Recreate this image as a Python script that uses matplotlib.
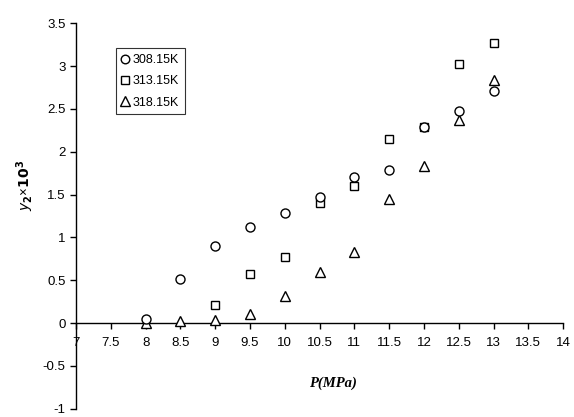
import matplotlib.pyplot as plt

# Datos
presion = [8, 8.5, 9, 9.5, 10, 10.5, 11, 11.5, 12, 12.5, 13]
y_308 = [0.05, 0.52, 0.90, 1.12, 1.29, 1.47, 1.71, 1.79, 2.29, 2.48, 2.71]
presion_313 = [9, 9.5, 10, 10.5, 11, 11.5, 12, 12.5, 13]
y_313 = [0.21, 0.57, 0.77, 1.40, 1.60, 2.15, 2.29, 3.02, 3.27]
y_318 = [0.0, 0.02, 0.04, 0.11, 0.31, 0.60, 0.83, 1.45, 1.83, 2.37, 2.84]
etiquetas = ['308.15K', '313.15K', '318.15K']

plt.rcParams['font.family'] = ['Liberation Sans', 'DejaVu Sans']

fig = plt.figure(figsize=(5.74, 4.17), dpi=100)
ax = fig.add_axes([0.1324, 0.02, 0.8486, 0.924])

estilo = dict(linestyle='none', markerfacecolor='white', markeredgecolor='black',
              markeredgewidth=1.0, clip_on=False)
ax.plot(presion_313, y_313, marker='s', markersize=6.3, label=etiquetas[1], zorder=3, **estilo)
ax.plot(presion, y_318, marker='^', markersize=7.3, label=etiquetas[2], zorder=3, **estilo)
ax.plot(presion, y_308, marker='o', markersize=6.5, label=etiquetas[0], zorder=4, **estilo)

ax.set_xlim(7, 14)
ax.set_ylim(-1, 3.5)
ax.set_xticks([7 + 0.5 * i for i in range(15)])
ax.set_xticklabels(['%g' % (7 + 0.5 * i) for i in range(15)])
ax.set_yticks([-1 + 0.5 * i for i in range(10)])
ax.set_yticklabels(['%g' % (-1 + 0.5 * i) for i in range(10)])

ax.spines['top'].set_visible(False)
ax.spines['right'].set_visible(False)
ax.spines['bottom'].set_position(('data', 0))
ax.spines['left'].set_linewidth(1.0)
ax.spines['bottom'].set_linewidth(1.0)
ax.tick_params(axis='both', direction='out', length=4, width=1.0, labelsize=9.5)
ax.tick_params(axis='x', pad=6)

ax.text(-0.105, 0.58, r'$\mathbf{\mathit{y}_2}$' + '\u00d7' + r'$\mathbf{10^3}$',
        transform=ax.transAxes, rotation=90, ha='center', va='center',
        fontsize=10, fontweight='bold', family='Liberation Serif')
ax.text(0.528, 0.065, 'P(MPa)', transform=ax.transAxes, ha='center', va='center',
        fontsize=10.5, fontstyle='italic', fontweight='bold', family='Liberation Serif')

handles, labels = ax.get_legend_handles_labels()
orden = [2, 0, 1]
leg = ax.legend([handles[i] for i in orden], [labels[i] for i in orden],
                loc='upper left', bbox_to_anchor=(0.082, 0.935), fontsize=9,
                frameon=True, fancybox=False, edgecolor='black', handlelength=0.6,
                handletextpad=0.3, borderpad=0.45, labelspacing=0.75, markerscale=0.95,
                borderaxespad=0)
leg.get_frame().set_linewidth(0.8)

fig.savefig('out.png', dpi=100)
